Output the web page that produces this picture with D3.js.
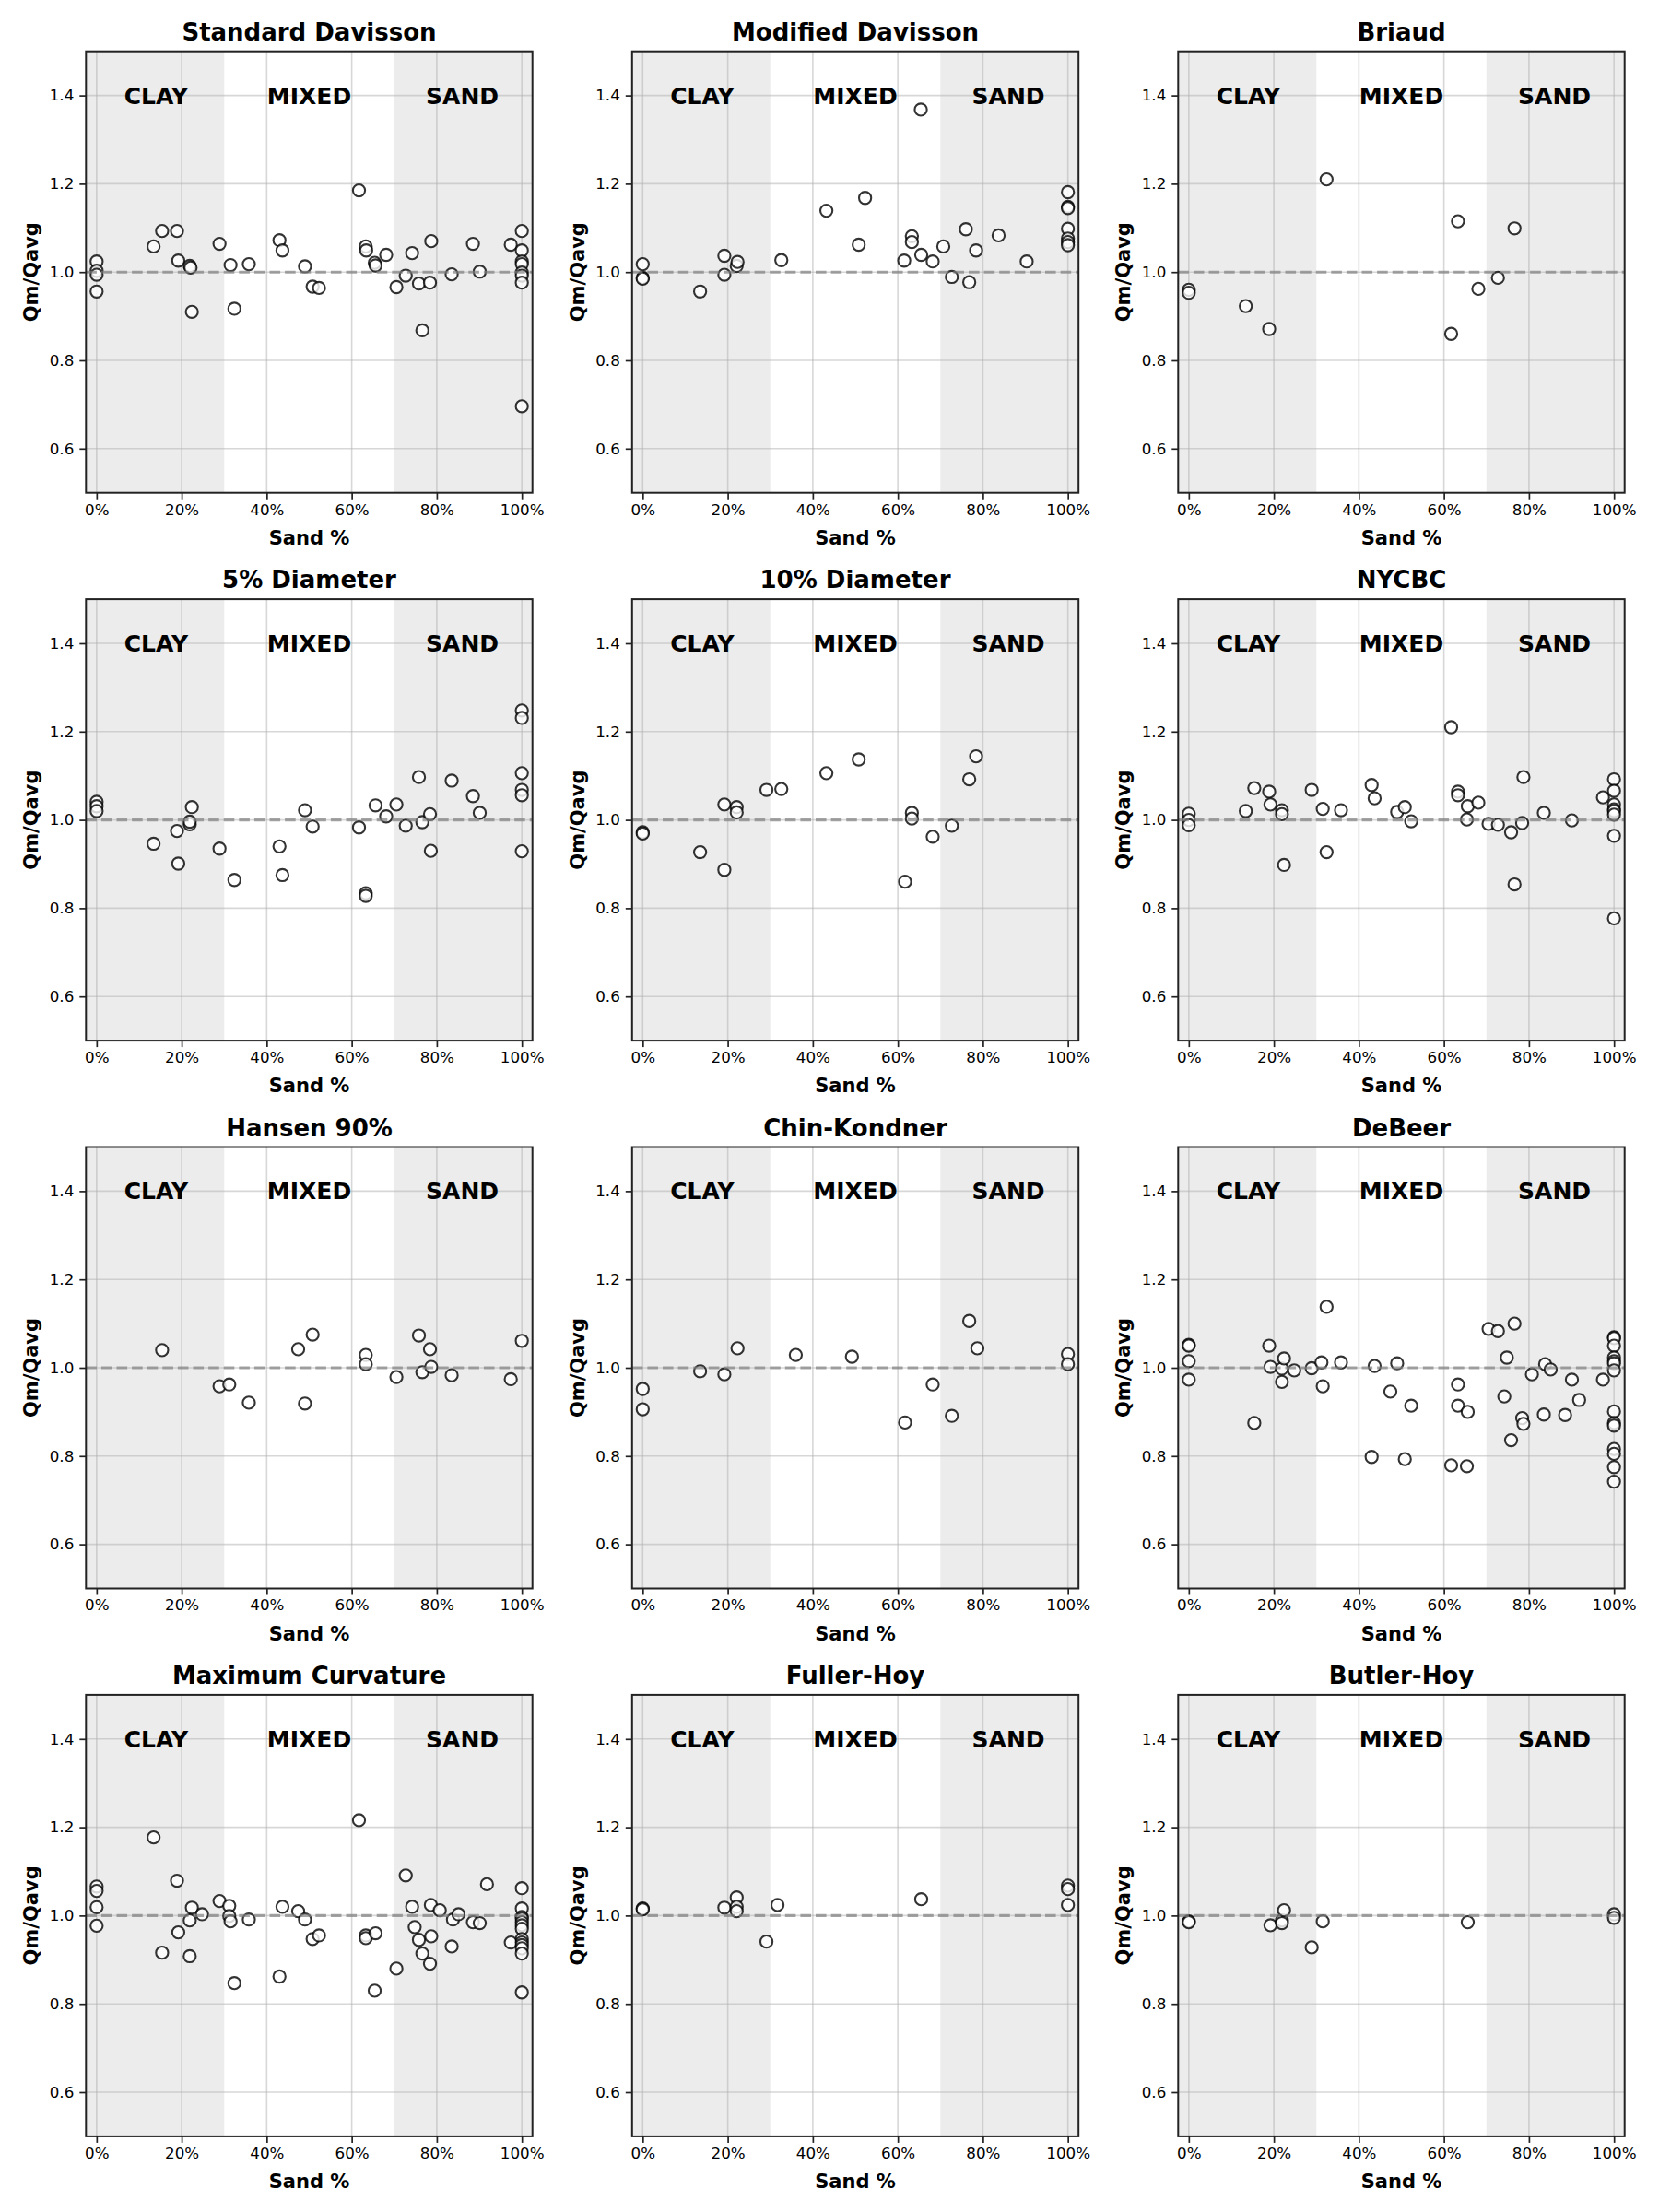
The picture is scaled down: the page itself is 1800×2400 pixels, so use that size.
<!DOCTYPE html>
<html><head><meta charset="utf-8">
<script src="https://cdn.jsdelivr.net/npm/d3@7"></script>
<style>
body{margin:0;background:#fff}
svg{display:block}
text{font-family:"DejaVu Sans",sans-serif}
</style>
</head><body>
<svg id="chart" width="1800" height="2400"></svg>
<script>
// ---------- data ----------
const methodTitles = ["Standard Davisson","Modified Davisson","Briaud","5% Diameter","10% Diameter","NYCBC","Hansen 90%","Chin-Kondner","DeBeer","Maximum Curvature","Fuller-Hoy","Butler-Hoy"];

const xTicks = [0,20,40,60,80,100];
const xTickLabels = ["0%","20%","40%","60%","80%","100%"];
const yTicks = [0.6,0.8,1.0,1.2,1.4];
const yTickLabels = ["0.6","0.8","1.0","1.2","1.4"];
const regionNames = ["CLAY","MIXED","SAND"];
const regionStarts = [-5,30,70];
const regionEnds = [30,70,105];
const regionShaded = [true,false,true];
const regionLabelX = [14,50,86];
const xLabel = "Sand %";
const yLabel = "Qm/Qavg";

const standardDavissonSand = [0,0,0,0,13.4,15.4,18.9,19.2,21.9,22.1,22.4,28.9,31.5,32.4,35.8,43.0,43.7,49.0,50.8,52.3,61.7,63.3,63.4,65.4,65.6,68.1,70.5,72.7,74.2,75.8,76.6,78.4,78.7,83.5,88.5,90.1,97.4,100,100,100,100,100,100,100,100];
const standardDavissonRatio = [1.024,1.003,0.994,0.956,1.058,1.093,1.093,1.026,1.014,1.010,0.910,1.064,1.016,0.917,1.018,1.072,1.049,1.013,0.967,0.964,1.185,1.058,1.049,1.021,1.015,1.039,0.966,0.992,1.043,0.974,0.868,0.976,1.070,0.995,1.064,1.001,1.062,1.093,1.049,1.024,1.018,0.999,0.992,0.976,0.696];

const modifiedDavissonSand = [0,0,0,13.5,19.2,19.2,22.1,22.3,32.6,43.2,50.8,52.3,61.5,63.3,63.3,65.4,65.5,68.2,70.7,72.7,76.0,76.8,78.4,83.7,90.3,100,100,100,100,100,100,100];
const modifiedDavissonRatio = [1.018,0.987,0.985,0.956,1.037,0.994,1.014,1.023,1.027,1.139,1.062,1.168,1.026,1.081,1.068,1.368,1.039,1.024,1.058,0.989,1.097,0.977,1.049,1.083,1.024,1.181,1.148,1.145,1.098,1.076,1.068,1.061];

const briaudSand = [0,0,13.4,18.9,32.4,61.7,63.3,68.1,72.7,76.6];
const briaudRatio = [0.960,0.953,0.923,0.871,1.210,0.860,1.115,0.962,0.987,1.099];

const diameter5Sand = [0,0,0,13.4,18.9,19.2,21.9,21.9,22.4,28.9,32.4,43.0,43.7,49.0,50.8,61.7,63.3,63.3,65.6,68.1,70.5,72.7,75.8,76.6,78.4,78.6,83.5,88.5,90.1,100,100,100,100,100,100];
const diameter5Ratio = [1.041,1.031,1.020,0.946,0.975,0.901,0.990,0.996,1.029,0.935,0.864,0.940,0.875,1.022,0.985,0.983,0.834,0.828,1.033,1.008,1.035,0.987,1.097,0.995,1.013,0.930,1.089,1.054,1.016,1.248,1.231,1.106,1.068,1.056,0.929];

const diameter10Sand = [0,0,13.5,19.2,19.2,22.1,22.1,29.1,32.6,43.2,50.8,61.7,63.3,63.3,68.2,72.7,76.8,78.4];
const diameter10Ratio = [0.972,0.969,0.927,1.035,0.887,1.029,1.017,1.068,1.070,1.106,1.137,0.860,1.016,1.003,0.962,0.987,1.092,1.144];

const nycbcSand = [0,0,0,13.4,15.4,18.9,19.2,21.9,21.9,22.4,28.9,31.5,32.4,35.8,43.0,43.7,49.0,50.8,52.3,61.7,63.3,63.3,65.4,65.6,68.1,70.5,72.7,75.8,76.6,78.4,78.7,83.5,90.1,97.4,100,100,100,100,100,100,100,100];
const nycbcRatio = [1.014,1.000,0.988,1.020,1.072,1.064,1.035,1.022,1.013,0.898,1.068,1.025,0.927,1.022,1.079,1.049,1.018,1.029,0.997,1.210,1.064,1.056,1.001,1.031,1.039,0.991,0.989,0.972,0.854,0.993,1.097,1.016,0.999,1.051,1.092,1.066,1.035,1.024,1.020,1.012,0.964,0.777];

const hansenSand = [15.4,28.9,31.2,35.8,47.4,49.0,50.8,63.3,63.3,70.5,75.8,76.6,78.4,78.7,83.5,97.4,100];
const hansenRatio = [1.040,0.958,0.962,0.921,1.042,0.919,1.075,1.029,1.008,0.979,1.073,0.990,1.042,1.002,0.983,0.974,1.061];

const chinSand = [0,0,13.5,19.2,22.3,36.0,49.2,61.7,68.2,72.7,76.8,78.7,100,100];
const chinRatio = [0.952,0.906,0.992,0.985,1.044,1.029,1.025,0.876,0.962,0.891,1.106,1.044,1.031,1.008];

const debeerSand = [0,0,0,0,15.4,18.9,19.2,21.9,21.9,22.4,24.8,28.9,31.2,31.5,32.4,35.8,43.0,43.7,47.4,49.0,50.8,52.3,61.7,63.3,63.3,65.4,65.6,70.5,72.7,74.2,74.8,75.8,76.6,78.4,78.7,80.7,83.5,83.8,85.1,88.5,90.1,91.8,97.4,100,100,100,100,100,100,100,100,100,100,100,100,100,100];
const debeerRatio = [1.052,1.050,1.015,0.973,0.875,1.050,1.002,0.998,0.968,1.021,0.994,0.999,1.012,0.958,1.138,1.012,0.798,1.004,0.946,1.010,0.793,0.914,0.779,0.962,0.914,0.777,0.900,1.088,1.083,0.935,1.023,0.836,1.100,0.886,0.873,0.985,0.894,1.008,0.996,0.893,0.973,0.927,0.973,1.069,1.067,1.050,1.023,1.015,1.010,0.994,0.901,0.875,0.869,0.816,0.805,0.775,0.742];

const maxCurvatureSand = [0,0,0,0,13.4,15.4,18.9,19.2,21.9,21.9,22.4,24.8,28.9,31.2,31.2,31.5,32.4,35.8,43.0,43.7,47.4,49.0,50.8,52.3,61.7,63.3,63.3,65.6,65.4,70.5,72.7,74.2,74.8,75.8,76.6,78.4,78.6,78.7,80.7,83.5,83.8,85.1,88.5,90.1,91.8,97.4,100,100,100,100,100,100,100,100,100,100,100,100,100];
const maxCurvatureRatio = [1.066,1.056,1.019,0.977,1.177,0.916,1.079,0.962,0.989,0.908,1.018,1.003,1.033,1.022,0.999,0.987,0.847,0.991,0.862,1.020,1.010,0.991,0.947,0.955,1.216,0.955,0.949,0.960,0.830,0.880,1.091,1.020,0.974,0.945,0.914,0.891,1.024,0.953,1.012,0.930,0.991,1.003,0.985,0.983,1.071,0.939,1.062,1.016,0.997,0.993,0.985,0.978,0.970,0.947,0.939,0.933,0.926,0.914,0.826];

const fullerHoySand = [0,0,19.2,22.1,22.1,22.1,29.1,31.7,65.5,100,100,100];
const fullerHoyRatio = [1.016,1.014,1.018,1.041,1.020,1.010,0.941,1.024,1.037,1.068,1.060,1.024];

const butlerHoySand = [0,0,19.2,21.9,21.9,22.4,28.9,31.5,65.6,100,100];
const butlerHoyRatio = [0.987,0.985,0.978,0.989,0.983,1.012,0.928,0.987,0.985,1.003,0.995];

const panelSand = [standardDavissonSand,modifiedDavissonSand,briaudSand,diameter5Sand,diameter10Sand,nycbcSand,hansenSand,chinSand,debeerSand,maxCurvatureSand,fullerHoySand,butlerHoySand];
const panelRatio = [standardDavissonRatio,modifiedDavissonRatio,briaudRatio,diameter5Ratio,diameter10Ratio,nycbcRatio,hansenRatio,chinRatio,debeerRatio,maxCurvatureRatio,fullerHoyRatio,butlerHoyRatio];

// ---------- layout ----------
const svg = d3.select("#chart");
const W = 484.4, H = 479;
const colLeft = c => 93.3 + c * 592.5;
const rowTop = r => 55.7 + r * 594.4;

const x = d3.scaleLinear().domain([-2.5, 102.5]).range([0, W]);
const y = d3.scaleLinear().domain([0.5, 1.5]).range([H, 0]);

const defs = svg.append("defs");
defs.append("clipPath").attr("id","plotclip").append("rect").attr("width",W).attr("height",H);

methodTitles.forEach((title, i) => {
  const c = i % 3, r = Math.floor(i / 3);
  const g = svg.append("g").attr("transform", `translate(${colLeft(c)},${rowTop(r)})`);
  const plot = g.append("g").attr("clip-path","url(#plotclip)");

  // region shading
  regionNames.forEach((nm, k) => {
    if (!regionShaded[k]) return;
    plot.append("rect")
      .attr("x", x(regionStarts[k])).attr("y", 0)
      .attr("width", x(regionEnds[k]) - x(regionStarts[k])).attr("height", H)
      .attr("fill", "#808080").attr("fill-opacity", 0.15);
  });

  // grid
  plot.selectAll(".gx").data(xTicks).enter().append("line")
    .attr("x1", d => x(d)).attr("x2", d => x(d)).attr("y1", 0).attr("y2", H)
    .attr("stroke", "#b0b0b0").attr("stroke-opacity", 0.5).attr("stroke-width", 1.6);
  plot.selectAll(".gy").data(yTicks).enter().append("line")
    .attr("y1", d => y(d)).attr("y2", d => y(d)).attr("x1", 0).attr("x2", W)
    .attr("stroke", "#b0b0b0").attr("stroke-opacity", 0.5).attr("stroke-width", 1.6);

  // points
  const pts = panelSand[i].map((s, j) => ({s, q: panelRatio[i][j]}));
  plot.selectAll("circle").data(pts).enter().append("circle")
    .attr("cx", d => x(d.s)).attr("cy", d => y(d.q)).attr("r", 6.6)
    .attr("fill", "#ffffff").attr("fill-opacity", 0.8)
    .attr("stroke", "#000").attr("stroke-opacity", 0.8).attr("stroke-width", 2.1);

  // reference line
  plot.append("line")
    .attr("x1", 0).attr("x2", W).attr("y1", y(1)).attr("y2", y(1))
    .attr("stroke", "#808080").attr("stroke-opacity", 0.7)
    .attr("stroke-width", 3.1).attr("stroke-dasharray", "11.6,5");

  // region labels
  regionNames.forEach((nm, k) => {
    g.append("text")
      .attr("x", x(regionLabelX[k])).attr("y", y(1.4) + 9)
      .attr("text-anchor", "middle").attr("font-weight", "bold")
      .attr("font-size", 25).attr("fill", "#000").text(nm);
  });

  // axes
  const xAxis = d3.axisBottom(x).tickValues(xTicks).tickFormat((d, j) => xTickLabels[j]).tickSize(7).tickPadding(5);
  const yAxis = d3.axisLeft(y).tickValues(yTicks).tickFormat((d, j) => yTickLabels[j]).tickSize(7).tickPadding(6);
  const gx = g.append("g").attr("transform", `translate(0,${H})`).call(xAxis);
  const gy = g.append("g").call(yAxis);
  [gx, gy].forEach(a => {
    a.select(".domain").remove();
    a.selectAll(".tick line").attr("stroke", "#222").attr("stroke-width", 1.7);
    a.selectAll(".tick text").attr("font-size", 16.7).attr("fill", "#000")
      .attr("font-family", "DejaVu Sans, sans-serif");
  });

  // spines
  g.append("rect").attr("width", W).attr("height", H)
    .attr("fill", "none").attr("stroke", "#222").attr("stroke-width", 2);

  // title & labels
  g.append("text").attr("x", W / 2).attr("y", -12)
    .attr("text-anchor", "middle").attr("font-weight", "bold").attr("font-size", 26)
    .attr("fill", "#000").text(title);
  g.append("text").attr("x", W / 2).attr("y", H + 56)
    .attr("text-anchor", "middle").attr("font-weight", "bold").attr("font-size", 21)
    .attr("fill", "#000").text(xLabel);
  g.append("text").attr("transform", `translate(-52,${H / 2}) rotate(-90)`)
    .attr("text-anchor", "middle").attr("font-weight", "bold").attr("font-size", 21)
    .attr("fill", "#000").text(yLabel);
});
</script>
</body></html>
